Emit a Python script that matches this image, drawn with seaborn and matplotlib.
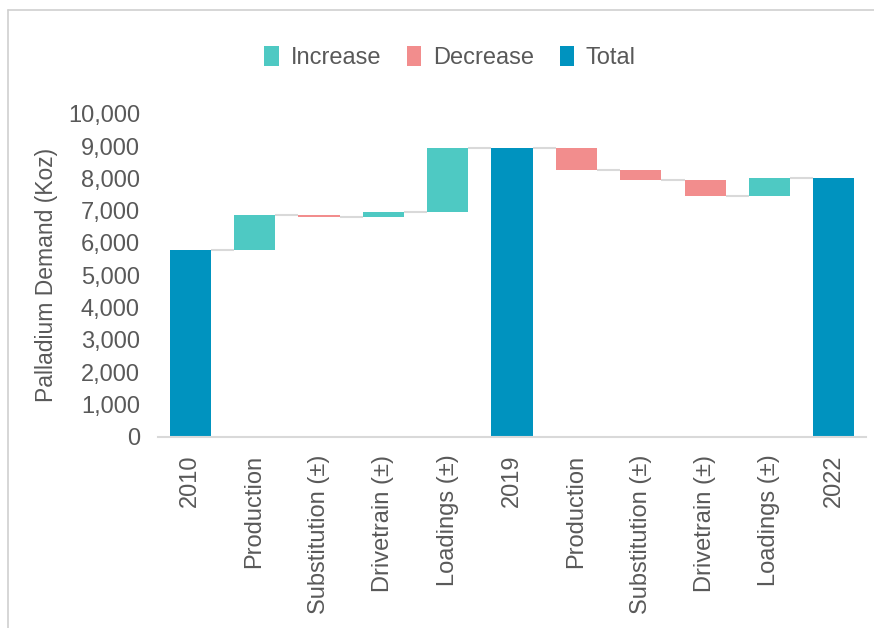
import numpy as np
import pandas as pd
import seaborn as sns
import matplotlib.pyplot as plt
from matplotlib.patches import Patch
from matplotlib.lines import Line2D

# Waterfall data (Koz)
categories = ["2010", "Production", "Substitution (±)", "Drivetrain (±)", "Loadings (±)",
              "2019", "Production", "Substitution (±)", "Drivetrain (±)", "Loadings (±)", "2022"]
values = [5780, 1090, -50, 130, 2010, 8960, -700, -310, -480, 560, 8030]
kinds = ["Total", "Increase", "Decrease", "Increase", "Increase",
         "Total", "Decrease", "Decrease", "Decrease", "Increase", "Total"]

colors = {"Increase": "#4EC9C3", "Decrease": "#F28D8D", "Total": "#0093BF"}
text_color = "#595959"
line_color = "#D9D9D9"

# Build bar bottoms / heights from running total
bottoms, heights, levels = [], [], []
running = 0
for v, k in zip(values, kinds):
    if k == "Total":
        bottoms.append(0)
        heights.append(v)
        running = v
    else:
        bottoms.append(min(running, running + v))
        heights.append(abs(v))
        running += v
    levels.append(running)

df = pd.DataFrame({"step": range(len(categories)), "label": categories,
                   "kind": kinds, "bottom": bottoms, "height": heights})

sns.set_theme(style="white")
plt.rcParams["font.family"] = ["Liberation Sans", "DejaVu Sans"]

fig = plt.figure(figsize=(8.74, 6.28), dpi=100)
ax = fig.add_axes([0.1808, 0.3049, 0.8101, 0.5136])

bar_width = 0.64
order = list(range(len(categories)))
for kind in ["Increase", "Decrease", "Total"]:
    sub = df[df["kind"] == kind]
    sns.barplot(data=sub, x="step", y="height", order=order, ax=ax,
                color=colors[kind], width=bar_width, bottom=sub["bottom"].values,
                saturation=1, linewidth=0, label=kind)

# Connector lines between bars
for i in range(len(categories) - 1):
    ax.plot([i + bar_width / 2, i + 1 - bar_width / 2], [levels[i], levels[i]],
            color=line_color, lw=1.5, zorder=0.5, solid_capstyle="butt")

ax.set_xlim(-0.5, len(categories) - 0.5)
ax.set_ylim(0, 10000)
ax.set_yticks(np.arange(0, 10001, 1000))
ax.set_yticklabels([f"{t:,}" for t in range(0, 10001, 1000)])
ax.set_xticks(order)
ax.set_xticklabels(categories, rotation=90)
ax.set_xlabel("")
ax.set_ylabel("Palladium Demand (Koz)", fontsize=16.5, color=text_color, labelpad=7)
ax.tick_params(axis="y", length=0, pad=13, labelsize=17, labelcolor=text_color)
ax.tick_params(axis="x", length=0, pad=13, labelsize=17, labelcolor=text_color)

for side in ["top", "right", "left"]:
    ax.spines[side].set_visible(False)
ax.spines["bottom"].set_color(line_color)
ax.spines["bottom"].set_linewidth(1.5)
ax.grid(False)
if ax.get_legend() is not None:
    ax.get_legend().remove()

handles = [Patch(facecolor=colors[k], edgecolor="none") for k in ["Increase", "Decrease", "Total"]]
fig.legend(handles, ["Increase", "Decrease", "Total"], loc="center",
           bbox_to_anchor=(0.515, 0.908), ncol=3, frameon=False, fontsize=17,
           handlelength=0.6, handleheight=0.9, handletextpad=0.5,
           columnspacing=1.1, labelcolor=text_color)

# Outer frame (left and top edges)
fig.add_artist(Line2D([0.009, 0.009], [0, 0.984], color="#CFCFCF", lw=1.2))
fig.add_artist(Line2D([0.009, 1.0], [0.984, 0.984], color="#CFCFCF", lw=1.2))

fig.savefig("out.png", dpi=100)
